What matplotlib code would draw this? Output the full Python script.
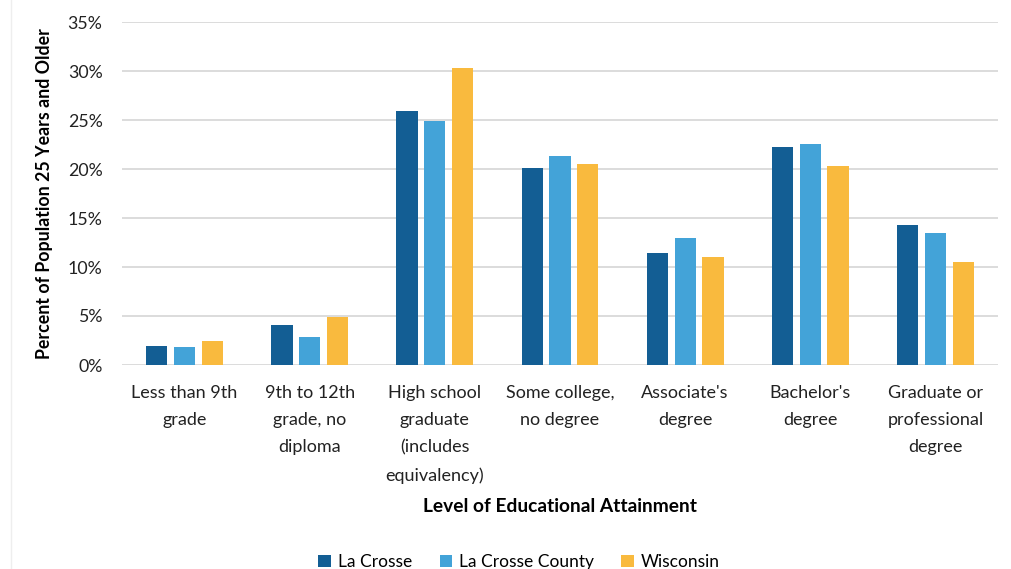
import matplotlib
matplotlib.use("Agg")
import matplotlib.pyplot as plt
import numpy as np
from matplotlib.lines import Line2D

plt.rcParams['font.family'] = ['Lato', 'DejaVu Sans']

categories = ["Less than 9th\ngrade", "9th to 12th\ngrade, no\ndiploma",
              "High school\ngraduate\n(includes\nequivalency)", "Some college,\nno degree",
              "Associate's\ndegree", "Bachelor's\ndegree", "Graduate or\nprofessional\ndegree"]
la_crosse = [1.9, 4.1, 25.9, 20.1, 11.4, 22.2, 14.3]
la_crosse_county = [1.8, 2.9, 24.9, 21.3, 13.0, 22.6, 13.5]
wisconsin = [2.5, 4.9, 30.3, 20.5, 11.0, 20.3, 10.5]
series_names = ["La Crosse", "La Crosse County", "Wisconsin"]
colors = ["#135E94", "#43A3D8", "#F9BA3E"]
yticks = [0, 5, 10, 15, 20, 25, 30, 35]

W, H = 1011, 569
fig = plt.figure(figsize=(W / 100, H / 100), dpi=100)
ax = fig.add_axes([122 / W, 1 - 365 / H, (998 - 122) / W, (365 - 22) / H])

x = np.arange(len(categories))
width = 0.17
step = 0.222
for i, (vals, name, c) in enumerate(zip([la_crosse, la_crosse_county, wisconsin], series_names, colors)):
    ax.bar(x + (i - 1) * step, vals, width=width, color=c, label=name, zorder=3)

ax.set_xlim(-0.5, len(categories) - 0.5)
ax.set_ylim(0, 35)
ax.set_yticks(yticks)
ax.set_yticklabels([f"{v}%" for v in yticks])
ax.set_xticks(x)
ax.set_xticklabels(categories, linespacing=1.86, va='top', fontsize=13)
for s in ax.spines.values():
    s.set_visible(False)
ax.grid(axis='y', color='#d9d9d9', linewidth=1.3, zorder=0)
ax.tick_params(axis='both', length=0, colors='#222222')
ax.tick_params(axis='y', pad=14, labelsize=12.8)
ax.tick_params(axis='x', pad=14.5)

ax.set_ylabel("Percent of Population 25 Years and Older", fontsize=12.8, fontweight='bold', labelpad=10.5)
fig.text(560 / W, 1 - 507 / H, "Level of Educational Attainment", ha='center', va='center',
         fontsize=13.8, fontweight='bold')

fig.legend(loc='center', bbox_to_anchor=(519 / W, 1 - 562 / H), ncol=3, frameon=False,
           fontsize=12.5, handlelength=0.7, handleheight=0.7, handletextpad=0.4, columnspacing=1.6)

fig.add_artist(Line2D([10.5 / W, 10.5 / W], [0, 1], color='#eeeeee', linewidth=1))

fig.savefig("out.png", dpi=100)
